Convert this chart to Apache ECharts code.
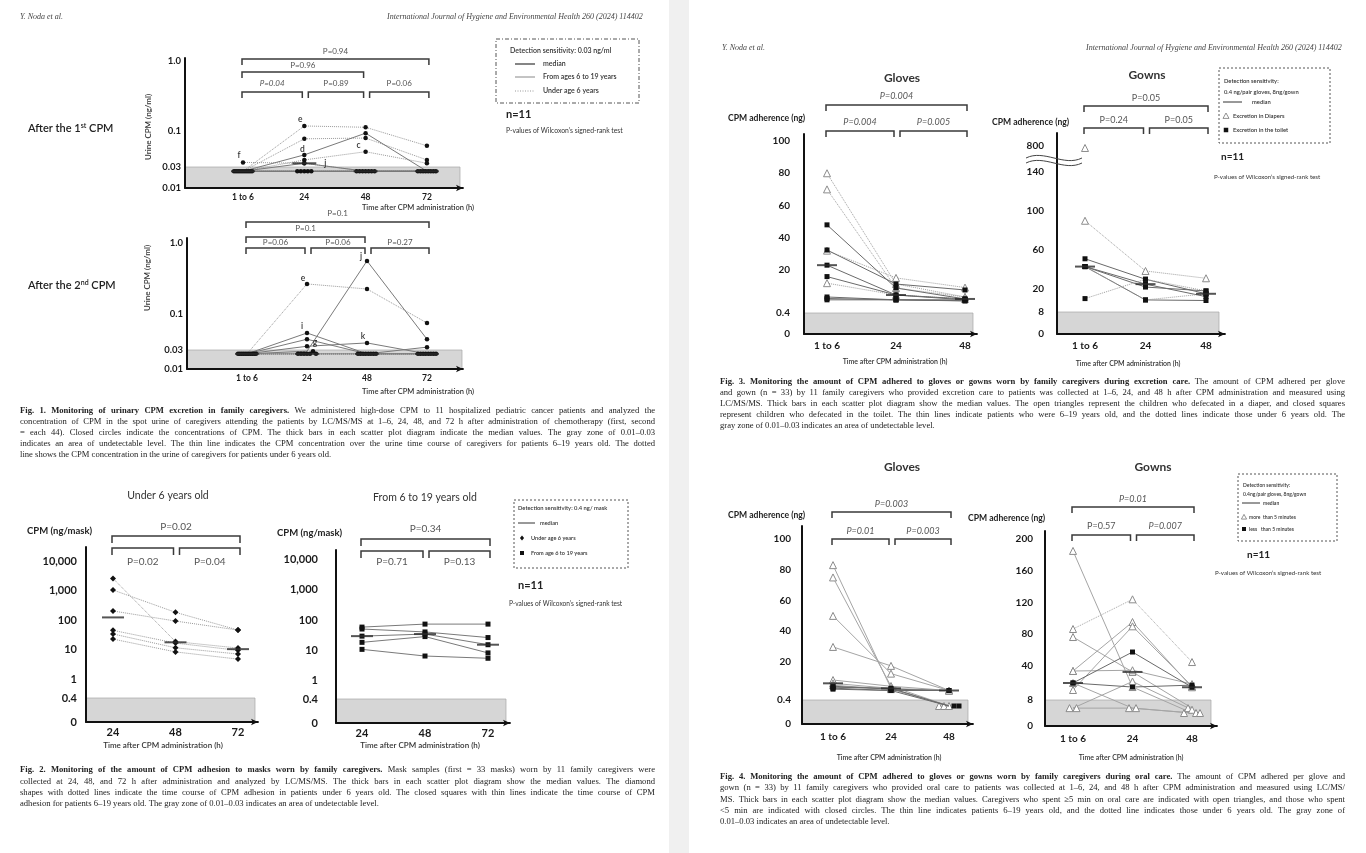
<!DOCTYPE html>
<html><head><meta charset="utf-8">
<script src="https://cdn.jsdelivr.net/npm/echarts@6/dist/echarts.min.js"></script>
<style>html,body{margin:0;padding:0;background:#fff}#c{width:1366px;height:853px}</style>
</head><body><div id="c"></div>
<script>
// ================= DATA =================
// Fig. 1 – urine CPM (ng/ml); undetectable samples are shown inside the grey zone
const fig1Times = ['1 to 6', '24', '48', '72'];
const fig1TickValues = [0.01, 0.03, 0.1, 1];
const fig1TickLabels = ['0.01', '0.03', '0.1', '1.0'];
const fig1aUnder6 = [
  [0.024, 0.118, 0.113, 0.061],
  [0.024, 0.077, 0.079, 0.038],
  [0.024, 0.038, 0.050, 0.034],
  [0.035, 0.034, 0.024, 0.024],
  [0.024, 0.024, 0.024, 0.024],
  [0.024, 0.024, 0.024, 0.024]
];
const fig1a6to19 = [
  [0.024, 0.045, 0.093, 0.024],
  [0.024, 0.034, 0.024, 0.024],
  [0.024, 0.024, 0.024, 0.024],
  [0.024, 0.024, 0.024, 0.024],
  [0.024, 0.024, 0.024, 0.024]
];
const fig1bUnder6 = [
  [0.024, 0.265, 0.225, 0.074],
  [0.024, 0.024, 0.024, 0.024],
  [0.024, 0.024, 0.024, 0.024],
  [0.024, 0.024, 0.024, 0.024],
  [0.024, 0.024, 0.024, 0.024],
  [0.024, 0.024, 0.024, 0.024]
];
const fig1b6to19 = [
  [0.024, 0.028, 0.56, 0.043],
  [0.024, 0.053, 0.024, 0.024],
  [0.024, 0.043, 0.024, 0.033],
  [0.024, 0.034, 0.038, 0.024],
  [0.024, 0.024, 0.024, 0.024]
];
const fig1Pairs = [[0, 1], [1, 2], [2, 3], [0, 2], [0, 3]];
const fig1aPValues = ['P=0.04', 'P=0.89', 'P=0.06', 'P=0.96', 'P=0.94'];
const fig1bPValues = ['P=0.06', 'P=0.06', 'P=0.27', 'P=0.1', 'P=0.1'];
const fig1aLetters = [['f', 3, 0], ['e', 0, 1], ['d', 6, 1], ['c', 2, 2], ['j', 7, 1]];
const fig1bLetters = [['e', 0, 1], ['j', 6, 2], ['i', 7, 1], ['g', 9, 1], ['k', 9, 2]];

// Fig. 2 – CPM on masks (ng/mask)
const fig2Times = ['24', '48', '72'];
const fig2TickValues = [0, 0.4, 1, 10, 100, 1000, 10000];
const fig2TickLabels = ['0', '0.4', '1', '10', '100', '1,000', '10,000'];
const fig2Under6 = [[2500, 18, 10.8], [1000, 180, 45], [200, 92, 45], [44, 16, 9], [33, 11, 6.8], [22, 8, 4.6]];
const fig2From6to19 = [[58, 73, 73], [50, 40, 26], [29, 34, 15], [18, 28, 8], [10.5, 6.3, 5.3]];
const fig2Pairs = [[0, 1], [1, 2], [0, 2]];
const fig2aPValues = ['P=0.02', 'P=0.04', 'P=0.02'];
const fig2bPValues = ['P=0.71', 'P=0.13', 'P=0.34'];

// Fig. 3 / Fig. 4 – CPM adherence (ng)
const fig34Times = ['1 to 6', '24', '48'];
const fig34Pairs = [[0, 1], [1, 2], [0, 2]];
const fig3GlovesTickValues = [0, 0.4, 20, 40, 60, 80, 100];
const fig3GlovesTickLabels = ['0', '0.4', '20', '40', '60', '80', '100'];
const fig3GownsTickValues = [0, 8, 20, 60, 100, 140, 800];
const fig3GownsTickLabels = ['0', '8', '20', '60', '100', '140', '800'];
const fig3GlovesDiaper = [[80, 13.6, 7.7], [70, 11.8, 7.7], [32, 16.4, 12], [14, 8.6, 6.8]];
const fig3GlovesToilet = [[48, 11.8, 6.8], [32.4, 13.6, 10.9], [23, 8.6, 6.8], [17, 8.6, 6.4], [7.7, 6.4, 6.4], [6.4, 6.4, 5.9], [7, 6.4, 6]];
const fig3GownsDiaper = [[750, null, null], [90, 38.5, 31]];
const fig3GownsToilet = [[51, 30, 17.5], [43, 25, 16], [43, 22, 19], [43, 14.3, 14]];
const fig3GownsToiletUnder6 = [[43, 14.3, 17.5], [15, 30, 19]];
const fig3GlovesPValues = ['P=0.004', 'P=0.005', 'P=0.004'];
const fig3GownsPValues = ['P=0.24', 'P=0.05', 'P=0.05'];

const fig4GlovesTickValues = [0, 0.4, 20, 40, 60, 80, 100];
const fig4GlovesTickLabels = ['0', '0.4', '20', '40', '60', '80', '100'];
const fig4GownsTickValues = [0, 8, 40, 80, 120, 160, 200];
const fig4GownsTickLabels = ['0', '8', '40', '80', '120', '160', '200'];
const fig4GlovesOver5 = [[83, 6.4, 0.3], [75, 7.5, 0.3], [50, 14, 5.3], [29.8, 18, 5.3], [10.7, 7.5, 5.3], [9, 6.4, 5.3], [8, 6, 0.3]];
const fig4GlovesUnder5 = [[7, 6.4, 0.3], [6, 5.3, 5.3], [7.5, 6, 5.3], [6.5, 5.3, 0.3]];
const fig4GownsOver5 = [[185, 20.2, 4], [76.5, 34.4, 5.5], [35.3, 95.4, 20], [35.3, 36, 23], [17.4, 90, 21], [5.5, 25.4, 5], [5.5, 5.5, 4], [24, 5.5, 4]];
const fig4GownsOver5Under6 = [[86.6, 124, 45]];
const fig4GownsUnder5 = [[24, 57.6, 20], [24, 20.2, 22]];
const fig4GlovesPValues = ['P=0.01', 'P=0.003', 'P=0.003'];
const fig4GownsPValues = ['P=0.57', 'P=0.007', 'P=0.01'];

// ================= LAYOUT / STYLE =================
const FIG = 'Lato, "Open Sans", sans-serif';
const SERIF = '"Liberation Serif", "DejaVu Serif", serif';
const DOT = { symbol: 'circle', size: 4.5, fill: '#111' };
const DIAM = { symbol: 'diamond', size: 6, fill: '#111' };
const SQR = { symbol: 'rect', size: 5, fill: '#111' };
const TRI = { symbol: 'triangle', size: 7, fill: '#fff', stroke: '#8c8c8c', borderWidth: 1 };

function makeScale(stops, log) {
  return v => {
    let i = 1;
    while (i < stops.length - 1 && v > stops[i][0]) i++;
    const [v0, p0] = stops[i - 1], [v1, p1] = stops[i];
    let t;
    if (log && v0 > 0 && v > 0) t = (Math.log10(v) - Math.log10(v0)) / (Math.log10(v1) - Math.log10(v0));
    else t = (v - v0) / (v1 - v0);
    return p0 + t * (p1 - p0);
  };
}
function median(arr) {
  const a = arr.filter(v => v != null).sort((x, y) => x - y);
  const n = a.length;
  if (!n) return null;
  return n % 2 ? a[(n - 1) / 2] : (a[n / 2 - 1] + a[n / 2]) / 2;
}

const panels = [
  { box: [185, 58, 278, 130], cat0: 243, step: 61.3, cats: fig1Times, log: true,
    stops: [[0.01, 0], [0.03, 21], [0.1, 57], [1, 127]], ticks: fig1TickValues, tickLabels: fig1TickLabels,
    threshold: 0.03, grayRight: 460, yFont: 9.5, xFont: 8.5, xMargin: 5, yMargin: 4,
    groups: [Object.assign({ data: fig1aUnder6, dashed: true }, DOT), Object.assign({ data: fig1a6to19, dashed: false }, DOT)],
    medianW: 24, jitter: 3.5, jitterSpan: 18,
    pairs: fig1Pairs, pvals: fig1aPValues, pRows: [[92, 83], [92, 83], [92, 83], [72, 65], [59, 51]], pItalic: [1, 0, 0, 0, 0], pFont: 8, legLen: 6,
    letters: fig1aLetters, letterOff: [[-4, -7], [-4, -7], [-2, -6], [-7, -6], [21, 0]] },
  { box: [187, 238, 276, 131], cat0: 247, step: 60, cats: fig1Times, log: true,
    stops: [[0.01, 0], [0.03, 19], [0.1, 55], [1, 126]], ticks: fig1TickValues, tickLabels: fig1TickLabels,
    threshold: 0.03, grayRight: 462, yFont: 9.5, xFont: 8.5, xMargin: 5, yMargin: 4,
    groups: [Object.assign({ data: fig1bUnder6, dashed: true }, DOT), Object.assign({ data: fig1b6to19, dashed: false }, DOT)],
    medianW: 24, jitter: 3.5, jitterSpan: 18,
    pairs: fig1Pairs, pvals: fig1bPValues, pRows: [[248, 242], [248, 242], [248, 242], [237, 228], [222, 213]], pItalic: [0, 0, 0, 0, 0], pFont: 8, legLen: 6,
    letters: fig1bLetters, letterOff: [[-4, -6], [-6, -5], [-5, -7], [8, -4], [-4, -7]] },
  { box: [86, 547, 172, 175], cat0: 113, step: 62.5, cats: fig2Times, log: true,
    stops: [[0, 0], [0.4, 24], [1, 43], [10, 73], [100, 102], [1000, 132], [10000, 161]], ticks: fig2TickValues, tickLabels: fig2TickLabels,
    threshold: 0.4, grayRight: 255, yFont: 11, xFont: 11, xMargin: 5, yMargin: 9,
    groups: [Object.assign({ data: fig2Under6, dashed: true }, DIAM)],
    medianW: 22, jitter: 0, jitterSpan: 0,
    pairs: fig2Pairs, pvals: fig2aPValues, pRows: [[548, 562], [548, 562], [536, 527]], pItalic: [0, 0, 0], pFont: 10, legLen: 7 },
  { box: [336, 550, 174, 173], cat0: 362, step: 63, cats: fig2Times, log: true,
    stops: [[0, 0], [0.4, 24], [1, 43], [10, 73], [100, 103], [1000, 134], [10000, 164]], ticks: fig2TickValues, tickLabels: fig2TickLabels,
    threshold: 0.4, grayRight: 506, yFont: 11, xFont: 11, xMargin: 5, yMargin: 18,
    groups: [Object.assign({ data: fig2From6to19, dashed: false }, SQR)],
    medianW: 22, jitter: 0, jitterSpan: 0,
    pairs: fig2Pairs, pvals: fig2bPValues, pRows: [[551, 562], [551, 562], [539, 529]], pItalic: [0, 0, 0], pFont: 10, legLen: 7 },
  { box: [804, 134, 173, 200], cat0: 827, step: 69, cats: fig34Times, log: false,
    stops: [[0, 0], [0.4, 21], [20, 64], [100, 193]], ticks: fig3GlovesTickValues, tickLabels: fig3GlovesTickLabels,
    threshold: 0.4, grayRight: 973, yFont: 10, xFont: 10, xMargin: 7, yMargin: 14,
    groups: [Object.assign({ data: fig3GlovesDiaper, dashed: true, lineColor: '#a0a0a0' }, TRI), Object.assign({ data: fig3GlovesToilet, dashed: false, lineColor: '#6a6a6a' }, SQR)],
    medianW: 20, jitter: 4, jitterSpan: 16,
    pairs: fig34Pairs, pvals: fig3GlovesPValues, pRows: [[131, 122], [131, 122], [105, 96]], pItalic: [1, 1, 1], pFont: 9, legLen: 6 },
  { box: [1057, 133, 168, 201], cat0: 1085, step: 60.5, cats: fig34Times, log: false,
    stops: [[0, 0], [8, 22], [20, 45], [60, 84], [100, 123], [140, 162], [800, 188]], ticks: fig3GownsTickValues, tickLabels: fig3GownsTickLabels,
    threshold: 8, grayRight: 1219, yFont: 10, xFont: 10, xMargin: 7, yMargin: 13,
    groups: [Object.assign({ data: fig3GownsDiaper, dashed: true, lineColor: '#a0a0a0' }, TRI),
             Object.assign({ data: fig3GownsToilet, dashed: false, lineColor: '#6a6a6a' }, SQR),
             Object.assign({ data: fig3GownsToiletUnder6, dashed: true, lineColor: '#a0a0a0' }, SQR)],
    medianW: 20, jitter: 4, jitterSpan: 16,
    pairs: fig34Pairs, pvals: fig3GownsPValues, pRows: [[128, 120], [128, 120], [106, 98]], pItalic: [0, 0, 0], pFont: 9, legLen: 6 },
  { box: [802, 526, 171, 198], cat0: 833, step: 58, cats: fig34Times, log: false,
    stops: [[0, 0], [0.4, 24], [20, 62], [100, 185]], ticks: fig4GlovesTickValues, tickLabels: fig4GlovesTickLabels,
    threshold: 0.4, grayRight: 968, yFont: 10, xFont: 10, xMargin: 8, yMargin: 11,
    groups: [Object.assign({ data: fig4GlovesOver5, dashed: false, lineColor: '#a5a5a5' }, TRI), Object.assign({ data: fig4GlovesUnder5, dashed: false, lineColor: '#6a6a6a' }, SQR)],
    medianW: 20, jitter: 5, jitterSpan: 22,
    pairs: fig34Pairs, pvals: fig4GlovesPValues, pRows: [[539, 531], [539, 531], [512, 504]], pItalic: [1, 1, 1], pFont: 9, legLen: 6 },
  { box: [1045, 531, 172, 195], cat0: 1073, step: 59.5, cats: fig34Times, log: false,
    stops: [[0, 0], [8, 26], [40, 60], [200, 187]], ticks: fig4GownsTickValues, tickLabels: fig4GownsTickLabels,
    threshold: 8, grayRight: 1211, yFont: 10, xFont: 10, xMargin: 8, yMargin: 12,
    groups: [Object.assign({ data: fig4GownsOver5, dashed: false, lineColor: '#a5a5a5' }, TRI),
             Object.assign({ data: fig4GownsOver5Under6, dashed: true, lineColor: '#a5a5a5' }, TRI),
             Object.assign({ data: fig4GownsUnder5, dashed: false, lineColor: '#6a6a6a' }, SQR)],
    medianW: 20, jitter: 7, jitterSpan: 16,
    pairs: fig34Pairs, pvals: fig4GownsPValues, pRows: [[535, 526], [535, 526], [507, 499]], pItalic: [0, 1, 1], pFont: 9, legLen: 6 }
];

// ================= BUILD OPTION =================
const grid = [], xAxis = [], yAxis = [], series = [];
panels.forEach((p, gi) => {
  const sc = makeScale(p.stops, p.log);
  p.sc = sc;
  const [L, T, W, H] = p.box;
  grid.push({ left: L, top: T, width: W, height: H, containLabel: false });
  const xmin = (L - p.cat0) / p.step, xmax = xmin + W / p.step;
  p.xmin = xmin;
  xAxis.push({ gridIndex: gi, type: 'value', min: xmin, max: xmax, z: 10,
    axisLine: { onZero: false, symbol: ['none', 'arrow'], symbolSize: [5, 7], lineStyle: { color: '#111', width: 1.8 } },
    axisTick: { show: false }, splitLine: { show: false },
    axisLabel: { customValues: p.cats.map((c, i) => i), formatter: v => p.cats[Math.round(v)] || '',
      color: '#1a1a1a', fontFamily: FIG, fontWeight: 'bold', fontSize: p.xFont, margin: p.xMargin } });
  const tickPos = p.ticks.map(sc);
  yAxis.push({ gridIndex: gi, type: 'value', min: 0, max: H, z: 10,
    axisLine: { onZero: false, lineStyle: { color: '#111', width: 2 } },
    axisTick: { show: false }, splitLine: { show: false },
    axisLabel: { customValues: tickPos, formatter: v => { const k = tickPos.findIndex(t => Math.abs(t - v) < 0.05); return k < 0 ? '' : p.tickLabels[k]; },
      color: '#1a1a1a', fontFamily: FIG, fontWeight: 'bold', fontSize: p.yFont, margin: p.yMargin } });
  // grey zone of undetectable level
  series.push({ type: 'line', xAxisIndex: gi, yAxisIndex: gi, data: [], silent: true, z: 1,
    markArea: { silent: true, itemStyle: { color: '#d6d6d6', borderColor: '#a8a8a8', borderWidth: 0.7 },
      data: [[{ xAxis: xmin, yAxis: 0 }, { xAxis: (p.grayRight - p.cat0) / p.step, yAxis: sc(p.threshold) }]] } });
  // caregivers
  const subjects = [];
  p.groups.forEach(g => g.data.forEach(row => subjects.push({ row, g })));
  p.subjects = subjects;
  const nT = p.cats.length;
  const offsets = subjects.map(() => new Array(nT).fill(0));
  for (let t = 0; t < nT; t++) {
    const low = subjects.map((s, i) => [s.row[t], i]).filter(([v]) => v != null && v < p.threshold);
    const n = low.length;
    if (n > 1 && p.jitter > 0) {
      const sp = Math.min(p.jitter, p.jitterSpan / (n - 1));
      low.forEach(([v, i], r) => { offsets[i][t] = (r - (n - 1) / 2) * sp; });
    }
  }
  subjects.forEach((s, si) => {
    const g = s.g;
    series.push({ type: 'line', xAxisIndex: gi, yAxisIndex: gi, z: g.fill === '#fff' ? 3 : 4, silent: true,
      symbol: g.symbol, symbolSize: g.size, showSymbol: true, showAllSymbol: true, connectNulls: false,
      lineStyle: { type: g.dashed ? 'dotted' : 'solid', color: g.lineColor || (g.dashed ? '#9a9a9a' : '#7a7a7a'), width: 1 },
      itemStyle: { color: g.fill, borderColor: g.stroke || g.fill, borderWidth: g.borderWidth || 0 },
      data: s.row.map((v, t) => v == null ? [t, '-'] : { value: [t, sc(v)], symbolOffset: [offsets[si][t], 0] }) });
  });
  // medians (thick bars)
  series.push({ type: 'scatter', xAxisIndex: gi, yAxisIndex: gi, z: 6, silent: true, symbol: 'rect',
    symbolSize: [p.medianW, 2], itemStyle: { color: '#2a2a2a' },
    data: p.cats.map((c, t) => [t, sc(median(subjects.map(s => s.row[t])))]) });
});

const chart = echarts.init(document.getElementById('c'), null, { renderer: 'canvas', width: 1366, height: 853 });
chart.setOption({ animation: false, backgroundColor: '#ffffff', grid, xAxis, yAxis, series });

// ================= ANNOTATIONS =================
const G = [];
function txt(x, y, text, o = {}) {
  const st = { text, fill: o.color || '#222', fontSize: o.size || 8, fontFamily: o.font || FIG,
    fontWeight: o.bold ? 'bold' : (o.weight || 'normal'), fontStyle: o.italic ? 'italic' : 'normal',
    align: o.align || 'left', verticalAlign: 'middle' };
  if (o.rich) st.rich = o.rich;
  return { type: 'text', x, y, rotation: o.rot || 0, silent: true, z: 100, style: st };
}
function line(x1, y1, x2, y2, color, w, dash) {
  return { type: 'line', silent: true, z: 100, shape: { x1, y1, x2, y2 }, style: { stroke: color, lineWidth: w, lineDash: dash || null } };
}
function box(x, y, w, h, dash) {
  return { type: 'rect', silent: true, z: 100, shape: { x, y, width: w, height: h }, style: { fill: null, stroke: '#555', lineWidth: 1, lineDash: dash } };
}
function tri(x, y, s) {
  return { type: 'polygon', silent: true, z: 100, shape: { points: [[x, y - s], [x + s, y + s * 0.8], [x - s, y + s * 0.8]] }, style: { fill: '#fff', stroke: '#777', lineWidth: 0.8 } };
}
function sq(x, y, s) {
  return { type: 'rect', silent: true, z: 100, shape: { x: x - s / 2, y: y - s / 2, width: s, height: s }, style: { fill: '#111' } };
}
function diam(x, y, s) {
  return { type: 'polygon', silent: true, z: 100, shape: { points: [[x, y - s], [x + s * 0.8, y], [x, y + s], [x - s * 0.8, y]] }, style: { fill: '#111' } };
}

// page separation strip
G.push({ type: 'rect', silent: true, z: 0, shape: { x: 669, y: 0, width: 20, height: 853 }, style: { fill: '#f0f0f0' } });

// brackets, p-values, letters
panels.forEach((p, gi) => {
  const xp = t => chart.convertToPixel({ gridIndex: gi }, [t, 0])[0];
  const last = p.cats.length - 1;
  p.pairs.forEach(([a, b], k) => {
    const xa = xp(a) + (a > 0 ? 4 : -1), xb = xp(b) + (b < last ? -2 : 2);
    const [by, ty] = p.pRows[k];
    G.push({ type: 'polyline', silent: true, z: 100, shape: { points: [[xa, by + p.legLen], [xa, by], [xb, by], [xb, by + p.legLen]] },
      style: { stroke: '#3a3a3a', lineWidth: 1.5, fill: null } });
    G.push(txt((xa + xb) / 2, ty, p.pvals[k], { size: p.pFont, italic: !!p.pItalic[k], color: '#555', align: 'center' }));
  });
  (p.letters || []).forEach(([ch, si, t], k) => {
    const v = p.subjects[si].row[t];
    const pt = chart.convertToPixel({ gridIndex: gi }, [t, p.sc(v)]);
    const [dx, dy] = p.letterOff[k];
    G.push(txt(pt[0] + dx, pt[1] + dy, ch, { size: 8.5, color: '#333', align: 'center', weight: 600 }));
  });
});

// axis break on Fig. 3 gowns
[158, 163].forEach(y => {
  G.push({ type: 'bezierCurve', silent: true, z: 100, shape: { x1: 1026, y1: y, x2: 1082, y2: y, cpx1: 1044, cpy1: y - 9, cpx2: 1064, cpy2: y + 9 }, style: { stroke: '#444', lineWidth: 1, fill: null } });
});

// ---------- left page texts ----------
G.push(txt(20, 17, 'Y. Noda et al.', { font: SERIF, italic: true, size: 8, color: '#444' }));
G.push(txt(387, 17, 'International Journal of Hygiene and Environmental Health 260 (2024) 114402', { font: SERIF, italic: true, size: 8, color: '#444' }));
const supRich = { a: { fontSize: 11, fontWeight: 600, fontFamily: FIG, fill: '#222' }, s: { fontSize: 7, fontWeight: 600, fontFamily: FIG, fill: '#222', verticalAlign: 'top' } };
G.push(txt(28, 128, '{a|After the 1}{s|st}{a| CPM}', { rich: supRich }));
G.push(txt(28, 285, '{a|After the 2}{s|nd}{a| CPM}', { rich: supRich }));
G.push(txt(148, 127, 'Urine CPM (ng/ml)', { rot: Math.PI / 2, align: 'center', size: 8, weight: 600, color: '#333' }));
G.push(txt(147, 278, 'Urine CPM (ng/ml)', { rot: Math.PI / 2, align: 'center', size: 8, weight: 600, color: '#333' }));
G.push(txt(418, 208, 'Time after CPM administration (h)', { align: 'center', size: 7.5, weight: 600, color: '#333' }));
G.push(txt(418, 392, 'Time after CPM administration (h)', { align: 'center', size: 7.5, weight: 600, color: '#333' }));
// Fig 1 legend
G.push(box(496, 39, 143, 64, [4, 2, 1, 2]));
G.push(txt(510, 51, 'Detection sensitivity: 0.03 ng/ml', { size: 7, weight: 600, color: '#333' }));
G.push(line(515, 64, 535, 64, '#333', 1.2));
G.push(txt(543, 64, 'median', { size: 7, weight: 600, color: '#333' }));
G.push(line(515, 77, 535, 77, '#888', 1));
G.push(txt(543, 77, 'From ages 6 to 19 years', { size: 7, weight: 600, color: '#333' }));
G.push(line(515, 91, 535, 91, '#999', 1, [1, 1.5]));
G.push(txt(543, 91, 'Under age 6 years', { size: 7, weight: 600, color: '#333' }));
G.push(txt(506, 114, 'n=11', { size: 11, bold: true, color: '#222' }));
G.push(txt(506, 131, 'P-values of Wilcoxon\u2019s signed-rank test', { size: 6.8, color: '#333' }));
// Fig 2 texts
G.push(txt(168, 496, 'Under 6 years old', { align: 'center', size: 10.5, color: '#333' }));
G.push(txt(425, 498, 'From 6 to 19 years old', { align: 'center', size: 10.5, color: '#333' }));
G.push(txt(27, 531, 'CPM (ng/mask)', { size: 9.5, bold: true, color: '#222' }));
G.push(txt(277, 533, 'CPM (ng/mask)', { size: 9.5, bold: true, color: '#222' }));
G.push(txt(163, 745, 'Time after CPM administration (h)', { align: 'center', size: 8, weight: 600, color: '#333' }));
G.push(txt(420, 745, 'Time after CPM administration (h)', { align: 'center', size: 8, weight: 600, color: '#333' }));
G.push(box(514, 500, 114, 68, [2, 2]));
G.push(txt(518, 508, 'Detection sensitivity: 0.4 ng/ mask', { size: 5.8, weight: 600, color: '#333' }));
G.push(line(518, 523, 535, 523, '#333', 1));
G.push(txt(540, 523, 'median', { size: 5.6, weight: 600, color: '#333' }));
G.push(diam(522, 538, 2.6));
G.push(txt(531, 538, 'Under age 6 years', { size: 5.6, weight: 600, color: '#333' }));
G.push(sq(522, 553, 4));
G.push(txt(531, 553, 'From age 6 to 19 years', { size: 5.6, weight: 600, color: '#333' }));
G.push(txt(518, 585, 'n=11', { size: 11, bold: true, color: '#222' }));
G.push(txt(509, 604, 'P-values of Wilcoxon\u2019s signed-rank test', { size: 6.6, color: '#333' }));

// ---------- right page texts ----------
G.push(txt(722, 48, 'Y. Noda et al.', { font: SERIF, italic: true, size: 8, color: '#444' }));
G.push(txt(1086, 48, 'International Journal of Hygiene and Environmental Health 260 (2024) 114402', { font: SERIF, italic: true, size: 8, color: '#444' }));
G.push(txt(902, 78, 'Gloves', { align: 'center', size: 12, bold: true, color: '#333' }));
G.push(txt(1147, 75, 'Gowns', { align: 'center', size: 12, bold: true, color: '#333' }));
G.push(txt(728, 118, 'CPM adherence (ng)', { size: 8.6, bold: true, color: '#222' }));
G.push(txt(992, 122, 'CPM adherence (ng)', { size: 8.6, bold: true, color: '#222' }));
G.push(txt(895, 362, 'Time after CPM administration (h)', { align: 'center', size: 7, weight: 600, color: '#333' }));
G.push(txt(1128, 364, 'Time after CPM administration (h)', { align: 'center', size: 7, weight: 600, color: '#333' }));
G.push(box(1219, 68, 111, 75, [2, 2]));
G.push(txt(1224, 81, 'Detection sensitivity:', { size: 5.8, weight: 600, color: '#333' }));
G.push(txt(1224, 92, '0.4 ng/pair gloves, 8ng/gown', { size: 5.8, weight: 600, color: '#333' }));
G.push(line(1223, 102, 1242, 102, '#333', 1));
G.push(txt(1252, 102, 'median', { size: 5.8, weight: 600, color: '#333' }));
G.push(tri(1226, 116, 3));
G.push(txt(1233, 116, 'Excretion in Diapers', { size: 5.8, weight: 600, color: '#333' }));
G.push(sq(1226, 130, 4.5));
G.push(txt(1233, 130, 'Excretion in the toilet', { size: 5.8, weight: 600, color: '#333' }));
G.push(txt(1221, 157, 'n=11', { size: 10, bold: true, color: '#222' }));
G.push(txt(1214, 177, 'P-values of Wilcoxon\u2019s signed-rank test', { size: 6.2, color: '#333' }));

G.push(txt(902, 467, 'Gloves', { align: 'center', size: 12, bold: true, color: '#333' }));
G.push(txt(1153, 467, 'Gowns', { align: 'center', size: 12, bold: true, color: '#333' }));
G.push(txt(728, 515, 'CPM adherence (ng)', { size: 8.6, bold: true, color: '#222' }));
G.push(txt(968, 518, 'CPM adherence (ng)', { size: 8.6, bold: true, color: '#222' }));
G.push(txt(889, 758, 'Time after CPM administration (h)', { align: 'center', size: 7, weight: 600, color: '#333' }));
G.push(txt(1131, 758, 'Time after CPM administration (h)', { align: 'center', size: 7, weight: 600, color: '#333' }));
G.push(box(1238, 474, 99, 67, [2, 2]));
G.push(txt(1243, 485, 'Detection sensitivity:', { size: 5, weight: 600, color: '#333' }));
G.push(txt(1243, 494, '0.4ng/pair gloves, 8ng/gown', { size: 5, weight: 600, color: '#333' }));
G.push(line(1242, 503, 1260, 503, '#333', 1));
G.push(txt(1263, 503, 'median', { size: 5, weight: 600, color: '#333' }));
G.push(tri(1244, 517, 2.6));
G.push(txt(1249, 517, 'more  than 5 minutes', { size: 5, weight: 600, color: '#333' }));
G.push(sq(1244, 529, 4));
G.push(txt(1249, 529, 'less   than 5 minutes', { size: 5, weight: 600, color: '#333' }));
G.push(txt(1247, 555, 'n=11', { size: 10, bold: true, color: '#222' }));
G.push(txt(1215, 573, 'P-values of Wilcoxon\u2019s signed-rank test', { size: 6.2, color: '#333' }));

// ---------- captions (justified) ----------
const mctx = document.createElement('canvas').getContext('2d');
function caption(lines, x0, x1, y0, lh, size) {
  lines.forEach((ln, li) => {
    const justify = li < lines.length - 1;
    const words = [];
    ln.split('**').forEach((seg, pi) => seg.split(' ').filter(w => w.length).forEach(w => words.push({ w, bold: pi % 2 === 1 })));
    let total = 0;
    words.forEach(wd => { mctx.font = (wd.bold ? 'bold ' : '') + size + 'px "Liberation Serif"'; wd.width = mctx.measureText(wd.w).width; total += wd.width; });
    mctx.font = size + 'px "Liberation Serif"';
    const space = mctx.measureText(' ').width;
    let gap = justify ? (x1 - x0 - total) / (words.length - 1) : space;
    if (gap < 1) gap = 1;
    let x = x0;
    words.forEach(wd => { G.push(txt(x, y0 + li * lh, wd.w, { size, font: SERIF, bold: wd.bold, color: '#222' })); x += wd.width + gap; });
  });
}
caption([
  '**Fig. 1.  Monitoring of urinary CPM excretion in family caregivers.** We administered high-dose CPM to 11 hospitalized pediatric cancer patients and analyzed the',
  'concentration of CPM in the spot urine of caregivers attending the patients by LC/MS/MS at 1\u20136, 24, 48, and 72 h after administration of chemotherapy (first, second',
  '= each 44). Closed circles indicate the concentrations of CPM. The thick bars in each scatter plot diagram indicate the median values. The gray zone of 0.01\u20130.03',
  'indicates an area of undetectable level. The thin line indicates the CPM concentration over the urine time course of caregivers for patients 6\u201319 years old. The dotted',
  'line shows the CPM concentration in the urine of caregivers for patients under 6 years old.'
], 20, 655, 411, 11, 8.6);
caption([
  '**Fig. 2.  Monitoring of the amount of CPM adhesion to masks worn by family caregivers.** Mask samples (first = 33 masks) worn by 11 family caregivers were',
  'collected at 24, 48, and 72 h after administration and analyzed by LC/MS/MS. The thick bars in each scatter plot diagram show the median values. The diamond',
  'shapes with dotted lines indicate the time course of CPM adhesion in patients under 6 years old. The closed squares with thin lines indicate the time course of CPM',
  'adhesion for patients 6\u201319 years old. The gray zone of 0.01\u20130.03 indicates an area of undetectable level.'
], 20, 655, 770, 11.3, 8.6);
caption([
  '**Fig. 3.  Monitoring the amount of CPM adhered to gloves or gowns worn by family caregivers during excretion care.** The amount of CPM adhered per glove',
  'and gown (n = 33) by 11 family caregivers who provided excretion care to patients was collected at 1\u20136, 24, and 48 h after CPM administration and measured using',
  'LC/MS/MS. Thick bars in each scatter plot diagram show the median values. The open triangles represent the children who defecated in a diaper, and closed squares',
  'represent children who defecated in the toilet. The thin lines indicate patients who were 6\u201319 years old, and the dotted lines indicate those under 6 years old. The',
  'gray zone of 0.01\u20130.03 indicates an area of undetectable level.'
], 720, 1345, 382, 11, 8.6);
caption([
  '**Fig. 4.  Monitoring the amount of CPM adhered to gloves or gowns worn by family caregivers during oral care.** The amount of CPM adhered per glove and',
  'gown (n = 33) by 11 family caregivers who provided oral care to patients was collected at 1\u20136, 24, and 48 h after CPM administration and measured using LC/MS/',
  'MS. Thick bars in each scatter plot diagram show the median values. Caregivers who spent \u22655 min on oral care are indicated with open triangles, and those who spent',
  '<5 min are indicated with closed circles. The thin line indicates patients 6\u201319 years old, and the dotted line indicates those under 6 years old. The gray zone of',
  '0.01\u20130.03 indicates an area of undetectable level.'
], 720, 1345, 777, 11.2, 8.6);

chart.setOption({ graphic: { elements: G } });
</script>
</body></html>
